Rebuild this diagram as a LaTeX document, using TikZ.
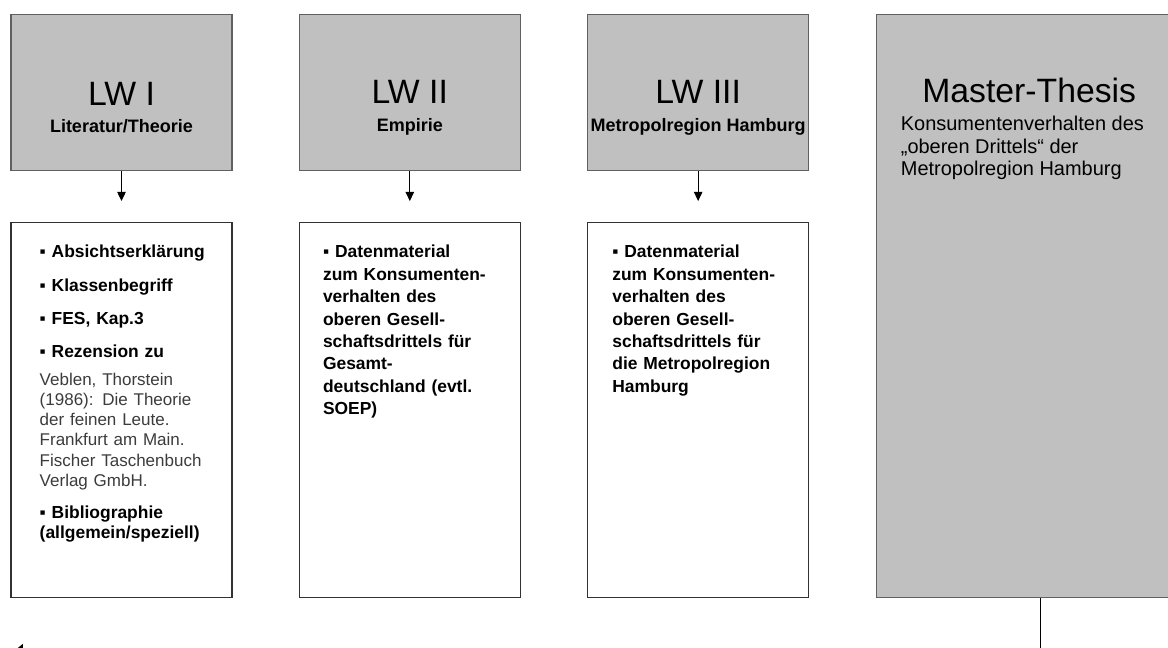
\documentclass[tikz,border=0pt]{standalone}
\usepackage{fontspec}
\setmainfont{Liberation Sans}
\usetikzlibrary{arrows.meta,positioning}
\definecolor{headgrey}{RGB}{192,192,192}
\definecolor{edgegrey}{RGB}{96,96,96}
\definecolor{boxedge}{RGB}{50,50,50}
\definecolor{refgrey}{RGB}{60,60,60}

\begin{document}
\begin{tikzpicture}[
  node distance=1.275cm and 1.655cm,
  head/.style={rectangle, draw=edgegrey, line width=0.8pt, fill=headgrey,
    minimum width=5.525cm, minimum height=3.9cm, inner sep=0pt},
  body/.style={rectangle, draw=boxedge, line width=0.8pt, fill=white,
    minimum width=5.525cm, minimum height=9.375cm, inner sep=0pt},
  thesis/.style={rectangle, draw=edgegrey, line width=0.8pt, fill=headgrey,
    minimum width=8.2cm, minimum height=14.575cm, inner sep=0pt},
  ttl/.style={anchor=base, inner sep=0pt, font=\fontsize{24}{28}\selectfont},
  sub/.style={anchor=base, inner sep=0pt, font=\fontsize{12.8}{15}\selectfont\bfseries},
  items/.style={anchor=north west, inner sep=0pt, text width=4.6cm, align=left,
    font=\fontsize{12.4}{15.9}\selectfont\bfseries},
  arw/.style={-{Triangle[length=6.5pt,width=6pt]}, line width=0.8pt, shorten >=0.525cm},
  link/.style={-{Triangle[length=7pt,width=11.4pt]}, line width=0.7pt},
]
  \useasboundingbox (0,0) rectangle (29.2,-16.2);

  % the three work packages and the thesis
  \node[head] (lw1) at (3.0375,-2.3125) {};
  \node[head, right=of lw1] (lw2) {};
  \node[head, right=of lw2] (lw3) {};
  \node[thesis, anchor=north west] (ms) at ([xshift=1.66cm]lw3.north east) {};

  \node[ttl] (lw1t) at ([yshift=-2.3cm]lw1.north) {LW I};
  \node[sub] (lw1s) at ([yshift=-2.975cm]lw1.north) {Literatur/Theorie};
  \node[ttl] (lw2t) at ([yshift=-2.25cm]lw2.north) {LW II};
  \node[sub] (lw2s) at ([yshift=-2.95cm]lw2.north) {Empirie};
  \node[ttl] (lw3t) at ([yshift=-2.25cm]lw3.north) {LW III};
  \node[sub] (lw3s) at ([yshift=-2.95cm]lw3.north) {Metropolregion Hamburg};

  \node[ttl] (mst) at ([xshift=-0.275cm,yshift=-2.225cm]ms.north) {Master-Thesis};
  \node[anchor=north west, inner sep=0pt, align=left,
    font=\fontsize{14.2}{16}\selectfont] (mss) at ([xshift=0.625cm,yshift=-2.55cm]ms.north west)
    {Konsumentenverhalten des\\„oberen Drittels“ der\\Metropolregion Hamburg};

  % contents
  \node[body, below=of lw1] (b1) {};
  \node[body, below=of lw2] (b2) {};
  \node[body, below=of lw3] (b3) {};

  \node[items, font=\fontsize{12.4}{14.4}\selectfont\bfseries]
    (b1t) at ([xshift=0.725cm,yshift=-0.575cm]b1.north west)
    {▪ Absichtserklärung\\[9.1pt]▪ Klassenbegriff\\[9.1pt]▪ FES, Kap.3\\[9.1pt]▪ Rezension zu\\[5.5pt]
     \fontsize{12.1}{14.4}\selectfont\mdseries\color{refgrey}Veblen, Thorstein\\(1986): Die Theorie\\der feinen Leute.\\Frankfurt am Main.\\Fischer Taschenbuch\\Verlag GmbH.\\[8.6pt]
     \fontsize{12.4}{14.4}\selectfont\bfseries\color{black}▪ Bibliographie\\(allgemein/speziell)};
  \node[items] (b2t) at ([xshift=0.6cm,yshift=-0.575cm]b2.north west)
    {▪ Datenmaterial\\zum Konsumenten-\\verhalten des\\oberen Gesell-\\schaftsdrittels für\\Gesamt-\\deutschland (evtl.\\SOEP)};
  \node[items] (b3t) at ([xshift=0.625cm,yshift=-0.575cm]b3.north west)
    {▪ Datenmaterial\\zum Konsumenten-\\verhalten des\\oberen Gesell-\\schaftsdrittels für\\die Metropolregion\\Hamburg};

  \draw[arw] (lw1) -- (b1);
  \draw[arw] (lw2) -- (b2);
  \draw[arw] (lw3) -- (b3);

  % back to the start
  \coordinate (back) at (0.325,-16.3);
  \coordinate (bend) at (ms.south |- back);
  \draw[link] (ms.south) -- (bend) -- (back);
\end{tikzpicture}
\end{document}
